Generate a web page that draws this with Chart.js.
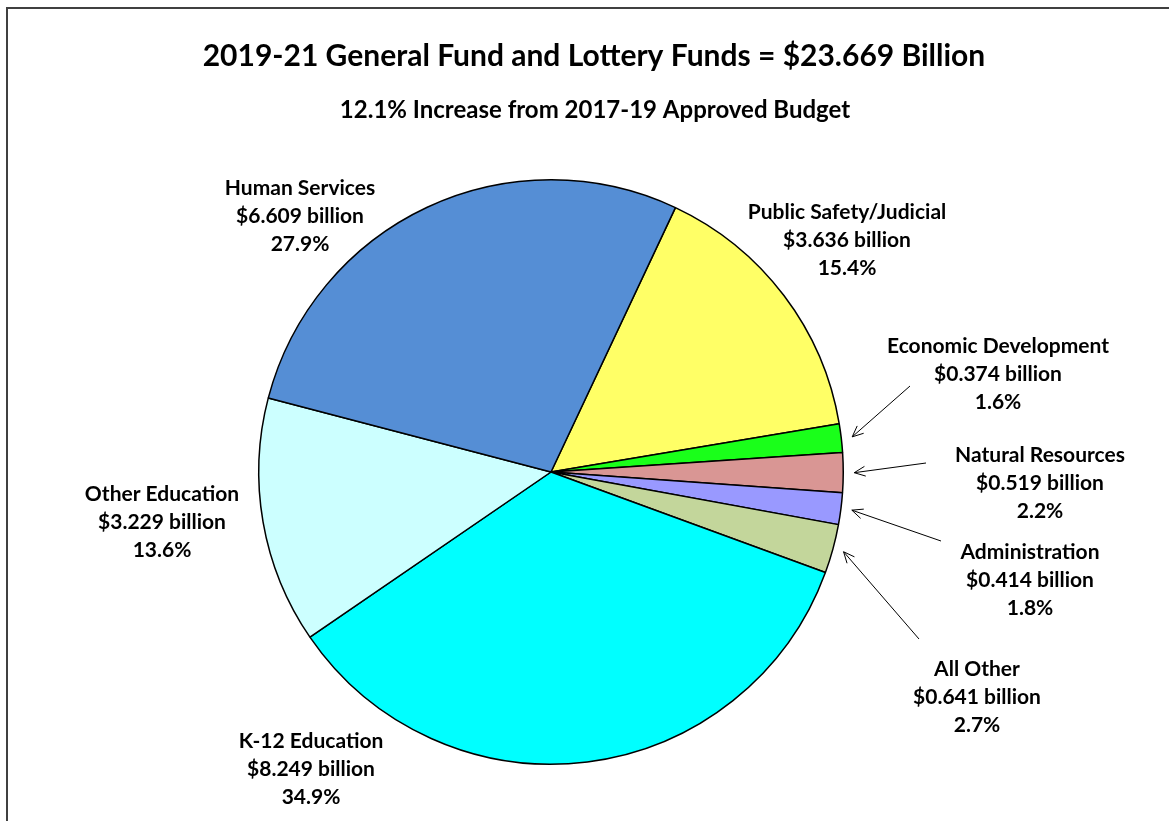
<!DOCTYPE html>
<html>
<head>
<meta charset="utf-8">
<script src="https://cdn.jsdelivr.net/npm/chart.js@4"></script>
<style>
  html, body { margin: 0; padding: 0; background: #fff; }
  canvas { display: block; }
</style>
</head>
<body>
<canvas id="budgetPie" width="1169" height="821"></canvas>
<script>
// data (billions)
const categories = ['Public Safety/Judicial', 'Economic Development', 'Natural Resources',
    'Administration', 'All Other', 'K-12 Education', 'Other Education', 'Human Services'];
const amounts = [3.636, 0.374, 0.519, 0.414, 0.641, 8.249, 3.229, 6.609];
const shares = ['15.4%', '1.6%', '2.2%', '1.8%', '2.7%', '34.9%', '13.6%', '27.9%'];
const sliceColors = ['#FFFF66', '#1AFF1A', '#D99694', '#9999FF', '#C3D69B', '#00FFFF', '#CCFFFF', '#558ED5'];

const titleText = '2019-21 General Fund and Lottery Funds = $23.669 Billion';
const subtitleText = '12.1% Increase from 2017-19 Approved Budget';

// label centres (first line) and arrow start points for the small slices
const labelSpots = [[847, 212], [998, 346], [1040, 455], [1030, 552], [977, 669], [311, 741], [162, 494], [300, 188]];
const arrowStarts = [null, [910, 386], [926, 463], [941, 541], [919, 639], null, null, null];

const FONT = 'Lato, "Open Sans", sans-serif';

const annotations = {
    id: 'annotations',
    afterDraw(chart) {
        const ctx = chart.ctx;
        ctx.save();

        // outer frame
        ctx.strokeStyle = '#404040';
        ctx.lineWidth = 2;
        ctx.strokeRect(7, 8, 1300, 1000);

        ctx.fillStyle = '#000';
        ctx.textAlign = 'center';
        ctx.textBaseline = 'middle';
        ctx.font = 'bold 30px ' + FONT;
        ctx.fillText(titleText, 594, 56);
        ctx.font = 'bold 24px ' + FONT;
        ctx.fillText(subtitleText, 595, 110);

        const arcs = chart.getDatasetMeta(0).data;
        ctx.font = 'bold 21px ' + FONT;
        categories.forEach((name, i) => {
            const [x, y] = labelSpots[i];
            ctx.fillText(name, x, y);
            ctx.fillText('$' + amounts[i].toFixed(3) + ' billion', x, y + 28);
            ctx.fillText(shares[i], x, y + 56);

            const start = arrowStarts[i];
            if (!start) return;
            const arc = arcs[i];
            const mid = (arc.startAngle + arc.endAngle) / 2;
            const r = arc.outerRadius + 11;
            const tx = arc.x + Math.cos(mid) * r;
            const ty = arc.y + Math.sin(mid) * r;
            ctx.strokeStyle = '#000';
            ctx.lineWidth = 1;
            ctx.beginPath();
            ctx.moveTo(start[0], start[1]);
            ctx.lineTo(tx, ty);
            const a = Math.atan2(ty - start[1], tx - start[0]);
            const head = 12, spread = 0.42;
            ctx.moveTo(tx - head * Math.cos(a - spread), ty - head * Math.sin(a - spread));
            ctx.lineTo(tx, ty);
            ctx.lineTo(tx - head * Math.cos(a + spread), ty - head * Math.sin(a + spread));
            ctx.stroke();
        });
        ctx.restore();
    }
};

new Chart(document.getElementById('budgetPie'), {
    type: 'pie',
    data: {
        labels: categories,
        datasets: [{
            data: amounts,
            backgroundColor: sliceColors,
            borderColor: '#000',
            borderWidth: 1.5
        }]
    },
    options: {
        responsive: false,
        animation: false,
        rotation: 25.2,
        layout: {
            padding: { left: 258, right: 325, top: 179, bottom: 56 }
        },
        plugins: {
            legend: { display: false },
            tooltip: { enabled: false }
        }
    },
    plugins: [annotations]
});
</script>
</body>
</html>
